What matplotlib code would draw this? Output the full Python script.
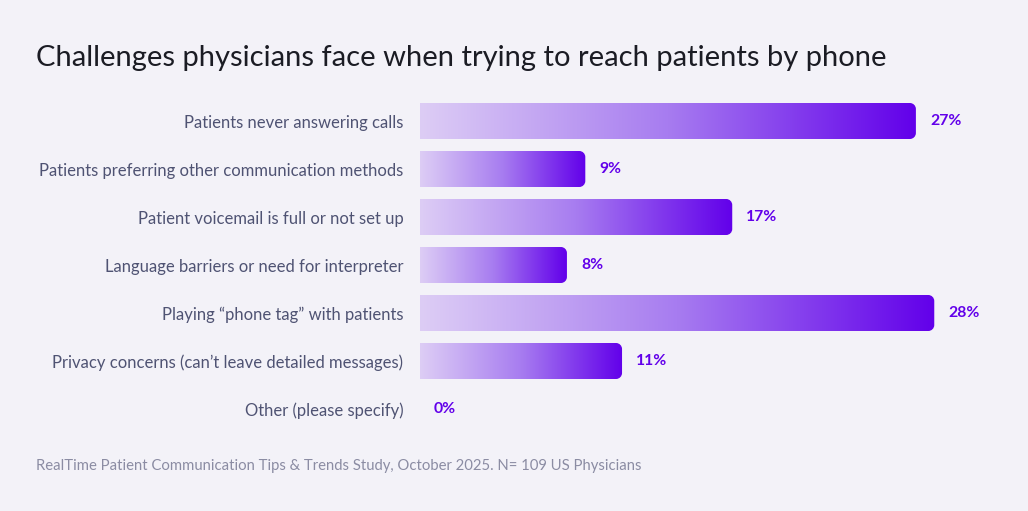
import matplotlib
matplotlib.use("Agg")
import matplotlib.pyplot as plt
import numpy as np
from matplotlib.colors import LinearSegmentedColormap
from matplotlib.path import Path
from matplotlib.patches import PathPatch

categories = [
    "Patients never answering calls",
    "Patients preferring other communication methods",
    "Patient voicemail is full or not set up",
    "Language barriers or need for interpreter",
    "Playing \u201cphone tag\u201d with patients",
    "Privacy concerns (can\u2019t leave detailed messages)",
    "Other (please specify)",
]
values = [27, 9, 17, 8, 28, 11, 0]
value_labels = ["27%", "9%", "17%", "8%", "28%", "11%", "0%"]
title = "Challenges physicians face when trying to reach patients by phone"
footer = "RealTime Patient Communication Tips & Trends Study, October 2025. N= 109 US Physicians"

BG = "#f3f2f8"
FONT = ["Lato", "DejaVu Sans"]
cmap = LinearSegmentedColormap.from_list("grad", ["#ddcdf5", "#a77cf0", "#6200ea"])

W, H = 1028, 511
fig = plt.figure(figsize=(W / 100, H / 100), dpi=100, facecolor=BG)
ax_left, ax_right = 420, 971
ax_top, ax_bot = 97, 433
ax = fig.add_axes([ax_left / W, 1 - ax_bot / H, (ax_right - ax_left) / W, (ax_bot - ax_top) / H])
ax.set_facecolor(BG)
xmax = 30
ax.set_xlim(0, xmax)
ax.set_ylim(len(categories) - 0.5, -0.5)
for s in ax.spines.values():
    s.set_visible(False)
ax.set_xticks([])
ax.set_yticks(range(len(categories)))
ax.set_yticklabels(categories, fontsize=12, color="#4f5373", family=FONT)
ax.tick_params(axis="y", length=0, pad=12)

bar_h = 0.75
px_x = (ax_right - ax_left) / xmax
px_y = (ax_bot - ax_top) / len(categories)
r_px = 6
rx, ry = r_px / px_x, r_px / px_y
k = 0.5523

grad = np.linspace(0, 1, 256).reshape(1, -1)
for i, v in enumerate(values):
    y0, y1 = i - bar_h / 2, i + bar_h / 2
    if v > 0:
        im = ax.imshow(grad, cmap=cmap, aspect="auto", extent=[0, v, y1, y0],
                       interpolation="bicubic", zorder=2)
        verts = [
            (0, y0), (v - rx, y0),
            (v - rx + k * rx, y0), (v, y0 + ry - k * ry), (v, y0 + ry),
            (v, y1 - ry),
            (v, y1 - ry + k * ry), (v - rx + k * rx, y1), (v - rx, y1),
            (0, y1), (0, y0),
        ]
        codes = [Path.MOVETO, Path.LINETO,
                 Path.CURVE4, Path.CURVE4, Path.CURVE4,
                 Path.LINETO,
                 Path.CURVE4, Path.CURVE4, Path.CURVE4,
                 Path.LINETO, Path.CLOSEPOLY]
        patch = PathPatch(Path(verts, codes), facecolor="none", edgecolor="none", transform=ax.transData)
        ax.add_patch(patch)
        im.set_clip_path(patch)
    ax.text(v + 14 / px_x, i, value_labels[i], va="center", ha="left", fontsize=11.3,
            color="#6200ea", fontweight="bold", family=FONT, zorder=3)

fig.text(36 / W, 1 - 66 / H, title, fontsize=21, color="#1b1c24", family=FONT,
         ha="left", va="baseline")
fig.text(36 / W, 1 - 470 / H, footer, fontsize=10.75, color="#8b8ca3", family=FONT,
         ha="left", va="baseline")

fig.savefig("out.png", dpi=100, facecolor=BG)
